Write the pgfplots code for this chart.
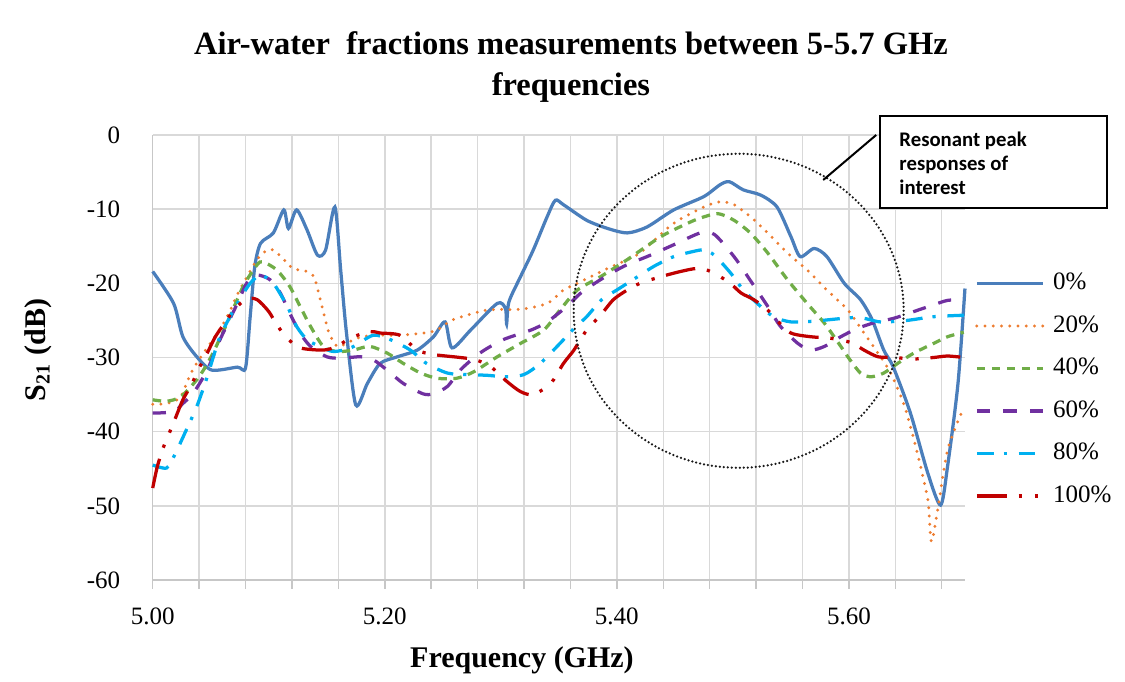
\documentclass[border=0pt]{standalone}
\usepackage{fontspec}
\setmainfont{Liberation Serif}
\newfontfamily\calibri{Carlito}
\usepackage{pgfplots}
\pgfplotsset{compat=1.18}
\definecolor{cblue}{HTML}{4A7EBB}
\definecolor{corange}{HTML}{ED7D31}
\definecolor{cgreen}{HTML}{70AD47}
\definecolor{cpurple}{HTML}{7030A0}
\definecolor{ccyan}{HTML}{00B0F0}
\definecolor{cred}{HTML}{C00000}
\begin{document}
\begin{tikzpicture}
% 1 px of the reference = 0.4pt, origin = lower left of plot area
\path[use as bounding box] (-61.08pt,-40.8pt) rectangle (388.92pt,232pt);
\begin{axis}[
    scale only axis,
    width=324.9pt, height=178pt,
    xmin=5, xmax=5.7, ymin=-60, ymax=0,
    axis lines*=left,
    axis line style={-, draw=black!22, line width=0.6pt},
    xtick={5.00,5.04,5.08,5.12,5.16,5.20,5.24,5.28,5.32,5.36,5.40,5.44,5.48,5.52,5.56,5.60,5.64,5.68},
    xticklabels={5.00,,,,,5.20,,,,,5.40,,,,,5.60,,},
    ytick={-60,-50,-40,-30,-20,-10,0},
    grid=major,
    grid style={black!15, line width=0.6pt},
    tick align=outside,
    major tick length=3.5pt,
    x tick style={draw=black!22, line width=0.6pt},
    y tick style={draw=none},
    tick label style={font=\fontsize{10}{12}\selectfont},
    /pgf/number format/assume math mode=true,
    yticklabel style={xshift=-6pt},
    xticklabel style={yshift=-4pt},
    clip=false,
    legend style={at={(axis description cs:1.012,0.704)}, anchor=north west,
        draw=none, fill=none, inner sep=0pt, row sep=4pt, column sep=1.5pt,
        font=\fontsize{10}{12}\selectfont,
        nodes={inner sep=2pt, text height=7pt, text depth=2pt},
        cells={anchor=west}},
    legend image code/.code={\draw[#1] (0pt,0pt) -- (26.4pt,0pt);},
    every axis plot/.append style={no markers, smooth, tension=0.45},
]
% 0%
\addplot[cblue, line width=1.3pt] coordinates {
(5.000,-18.4) (5.018,-22.7) (5.026,-27.2) (5.038,-29.9) (5.051,-31.7) (5.073,-31.3)
(5.080,-31.4) (5.084,-24.5) (5.088,-17.7) (5.093,-14.6) (5.104,-13.2) (5.113,-10.1)
(5.117,-12.6) (5.124,-10.1) (5.133,-12.8) (5.142,-16.2) (5.149,-15.5) (5.157,-9.7)
(5.162,-18.2) (5.167,-26.7) (5.175,-36.4) (5.185,-33.5) (5.196,-30.8) (5.211,-29.9)
(5.228,-29.0) (5.242,-27.2) (5.252,-25.2) (5.258,-28.7) (5.274,-26.3) (5.297,-22.7)
(5.304,-23.4) (5.305,-25.5) (5.307,-22.5) (5.317,-19.1) (5.328,-15.5) (5.340,-11.0)
(5.347,-8.8) (5.354,-9.4) (5.374,-11.5) (5.392,-12.6) (5.409,-13.2) (5.426,-12.4)
(5.449,-10.1) (5.475,-8.3) (5.489,-6.7) (5.497,-6.3) (5.509,-7.4) (5.524,-8.1)
(5.538,-9.7) (5.550,-13.7) (5.558,-16.4) (5.570,-15.3) (5.581,-16.4) (5.596,-20.0)
(5.610,-22.2) (5.620,-24.9) (5.630,-29.0) (5.638,-31.2) (5.653,-37.5) (5.668,-45.6)
(5.679,-49.9) (5.685,-44.7) (5.694,-33.5) (5.700,-20.7)
};
% 20%
\addplot[corange, line width=1.3pt, line cap=round, dash pattern=on 0pt off 3.3pt] coordinates {
(5.000,-36.3) (5.012,-36.2) (5.024,-35.3) (5.035,-31.5) (5.061,-25.4) (5.075,-20.9)
(5.090,-16.8) (5.097,-15.7) (5.104,-15.5) (5.113,-16.8) (5.121,-18.0) (5.133,-18.4)
(5.139,-19.1) (5.143,-21.3) (5.147,-23.8) (5.152,-26.7) (5.159,-28.5) (5.167,-28.1)
(5.176,-27.4) (5.190,-27.0) (5.213,-27.0) (5.233,-26.7) (5.245,-26.3) (5.259,-24.9)
(5.288,-23.6) (5.317,-23.5) (5.340,-22.7) (5.354,-20.9) (5.366,-20.0) (5.392,-18.0)
(5.415,-16.4) (5.426,-15.1) (5.449,-11.9) (5.475,-9.7) (5.489,-9.0) (5.501,-9.4)
(5.515,-11.0) (5.530,-13.2) (5.547,-15.9) (5.564,-18.2) (5.581,-20.9) (5.599,-23.6)
(5.613,-26.7) (5.625,-29.4) (5.636,-32.1) (5.648,-36.6) (5.659,-42.9) (5.668,-49.2)
(5.671,-54.8) (5.676,-51.0) (5.685,-42.5) (5.698,-37.1)
};
% 40%
\addplot[cgreen, line width=1.3pt, dash pattern=on 3.4pt off 2.6pt] coordinates {
(5.000,-35.7) (5.012,-35.9) (5.024,-35.3) (5.038,-33.0) (5.049,-30.3) (5.064,-25.4)
(5.078,-20.4) (5.090,-17.5) (5.095,-17.1) (5.107,-18.2) (5.118,-20.4) (5.127,-23.1)
(5.136,-25.8) (5.147,-28.5) (5.159,-29.2) (5.173,-29.0) (5.187,-28.5) (5.202,-29.4)
(5.216,-30.8) (5.231,-32.1) (5.245,-32.8) (5.262,-32.8) (5.277,-31.9) (5.297,-29.9)
(5.317,-28.1) (5.337,-26.3) (5.351,-23.6) (5.366,-20.9) (5.386,-19.1) (5.409,-16.8)
(5.438,-13.7) (5.461,-11.9) (5.472,-11.2) (5.487,-10.6) (5.501,-11.5) (5.515,-13.2)
(5.530,-15.9) (5.547,-19.5) (5.564,-22.7) (5.579,-25.4) (5.593,-28.5) (5.599,-29.9)
(5.610,-32.1) (5.619,-32.6) (5.630,-32.1) (5.642,-30.8) (5.656,-29.4) (5.673,-28.1)
(5.685,-27.2) (5.699,-26.6)
};
% 60%
\addplot[cpurple, line width=1.3pt, dash pattern=on 5.3pt off 5.3pt] coordinates {
(5.000,-37.5) (5.018,-37.3) (5.026,-36.2) (5.035,-34.8) (5.047,-31.7) (5.058,-27.6)
(5.073,-22.7) (5.081,-20.0) (5.090,-18.9) (5.101,-19.5) (5.110,-21.3) (5.118,-24.0)
(5.127,-26.7) (5.136,-28.5) (5.150,-29.9) (5.162,-30.1) (5.179,-29.9) (5.190,-30.3)
(5.202,-31.7) (5.216,-33.5) (5.233,-34.9) (5.242,-34.9) (5.254,-33.9) (5.265,-31.7)
(5.282,-29.4) (5.302,-27.6) (5.326,-26.3) (5.340,-25.2) (5.357,-23.1) (5.369,-21.3)
(5.386,-19.5) (5.406,-17.7) (5.429,-16.2) (5.449,-14.8) (5.472,-13.2) (5.484,-13.4)
(5.501,-16.4) (5.515,-19.6) (5.530,-23.1) (5.541,-25.8) (5.556,-28.1) (5.567,-29.0)
(5.579,-28.5) (5.593,-27.2) (5.607,-26.1) (5.622,-25.3) (5.639,-24.7) (5.656,-23.8)
(5.673,-22.9) (5.685,-22.3) (5.699,-22.2)
};
% 80%
\addplot[ccyan, line width=1.3pt, dash pattern=on 6.7pt off 4pt on 1.3pt off 4.7pt] coordinates {
(5.000,-44.5) (5.012,-44.9) (5.019,-43.1) (5.028,-40.1) (5.038,-36.6) (5.047,-32.6)
(5.058,-27.2) (5.073,-22.7) (5.084,-20.0) (5.093,-18.9) (5.104,-20.0) (5.116,-23.1)
(5.124,-25.8) (5.133,-27.6) (5.144,-28.5) (5.156,-29.2) (5.172,-28.6) (5.190,-27.0)
(5.205,-27.6) (5.222,-29.0) (5.236,-30.8) (5.254,-32.1) (5.271,-32.3) (5.288,-32.4)
(5.305,-32.6) (5.320,-32.3) (5.334,-30.8) (5.351,-28.1) (5.363,-26.1) (5.374,-24.5)
(5.387,-22.2) (5.400,-20.9) (5.418,-19.1) (5.432,-17.7) (5.449,-16.4) (5.466,-15.7)
(5.475,-15.5) (5.484,-16.2) (5.498,-18.6) (5.509,-20.9) (5.521,-22.7) (5.535,-24.5)
(5.550,-25.2) (5.570,-25.1) (5.607,-24.6) (5.627,-25.2) (5.650,-25.0) (5.673,-24.5)
(5.699,-24.3)
};
% 100%
\addplot[cred, line width=1.3pt, dash pattern=on 12pt off 4.7pt on 1.3pt off 5.2pt on 1.3pt off 4.7pt] coordinates {
(5.000,-47.6) (5.004,-44.7) (5.009,-42.2) (5.014,-40.3) (5.019,-38.4) (5.026,-35.7)
(5.034,-33.5) (5.039,-31.7) (5.047,-29.4) (5.054,-27.2) (5.064,-24.9) (5.071,-23.4)
(5.081,-22.1) (5.090,-22.2) (5.100,-23.8) (5.107,-25.6) (5.116,-27.4) (5.127,-28.7)
(5.147,-29.0) (5.159,-28.5) (5.170,-27.4) (5.187,-26.5) (5.196,-26.7) (5.213,-27.0)
(5.228,-29.0) (5.242,-29.6) (5.265,-30.0) (5.278,-30.3) (5.291,-31.2) (5.305,-33.2)
(5.317,-34.6) (5.328,-35.0) (5.343,-33.5) (5.354,-30.8) (5.363,-29.0) (5.374,-26.3)
(5.386,-24.3) (5.397,-22.2) (5.409,-20.9) (5.420,-20.0) (5.438,-19.1) (5.455,-18.4)
(5.469,-18.0) (5.481,-18.4) (5.497,-19.9) (5.507,-21.3) (5.518,-22.2) (5.530,-23.6)
(5.538,-25.0) (5.550,-26.7) (5.567,-27.2) (5.584,-27.4) (5.602,-28.0) (5.613,-29.0)
(5.625,-29.9) (5.639,-30.0) (5.656,-30.2) (5.673,-30.0) (5.685,-29.8) (5.699,-30.0)
};
\legend{0\%,20\%,40\%,60\%,80\%,100\%}
% circle marking the resonant peaks
\draw[black!90, line width=1pt, line cap=round, dash pattern=on 0pt off 1.6pt]
    (axis cs:5.505,-23.7) ellipse [x radius=66pt, y radius=62.8pt];
\end{axis}
% title and axis titles
\node[font=\bfseries\fontsize{13}{16.4}\selectfont, align=center] at (167.3pt,205pt)
    {Air-water~ fractions measurements between 5-5.7 GHz\\frequencies};
\node[font=\bfseries\fontsize{12}{14}\selectfont] at (147.7pt,-32pt) {Frequency (GHz)};
\node[font=\bfseries\fontsize{12}{14}\selectfont, rotate=90] at (-45.9pt,92pt) {S\textsubscript{21} (dB)};
% callout
\draw[line width=0.8pt] (268.2pt,160pt) -- (289.4pt,178pt);
\draw[line width=0.8pt, fill=white] (290.9pt,148.8pt) rectangle (381.7pt,185.6pt);
\node[anchor=west, align=left, inner sep=0pt, font=\calibri\bfseries\fontsize{8.3}{9.6}\selectfont]
    at (298.5pt,166.8pt) {Resonant peak\\responses of\\interest};
\end{tikzpicture}
\end{document}
